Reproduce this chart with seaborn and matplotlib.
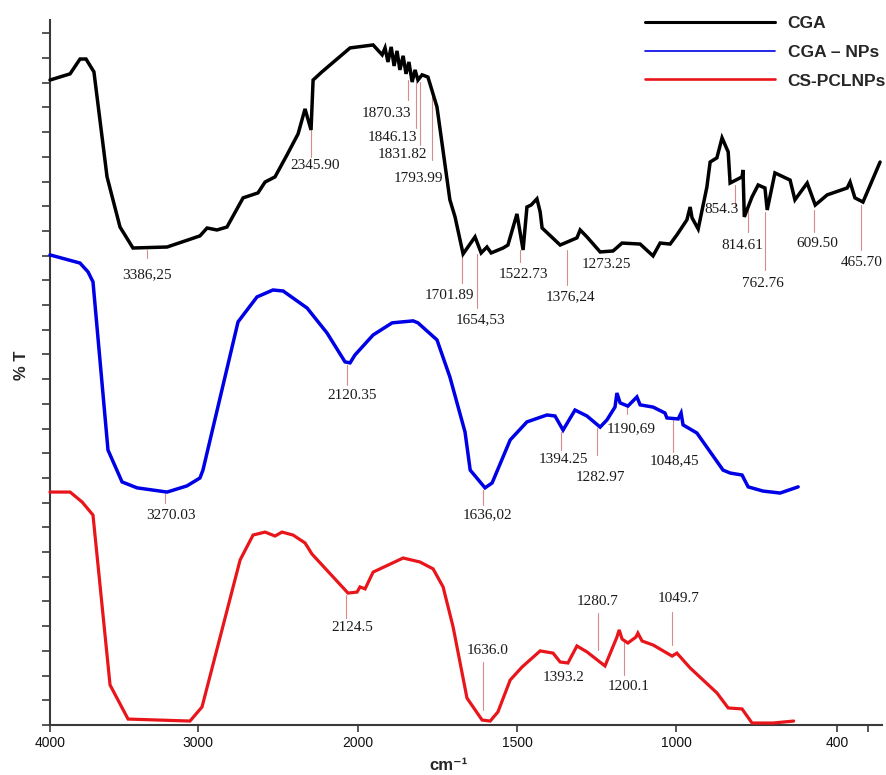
import numpy as np
import pandas as pd
import matplotlib
matplotlib.use("Agg")
import matplotlib.pyplot as plt
from matplotlib.lines import Line2D
import seaborn as sns

# ---------------------------------------------------------------------------
# FTIR spectra: wavenumber (cm-1) and stacked transmittance (offset units)
# ---------------------------------------------------------------------------
cga_wn = [4000, 3873, 3810, 3772, 3722, 3639, 3557, 3475, 3259, 3051,
          3006, 2943, 2880, 2778, 2684, 2639, 2576, 2500, 2430, 2386,
          2348, 2335, 2279, 2101, 1978, 1950, 1941, 1932, 1922, 1913,
          1904, 1895, 1885, 1876, 1867, 1857, 1848, 1839, 1826, 1808,
          1780, 1740, 1724, 1699, 1662, 1643, 1625, 1612, 1575, 1560,
          1532, 1513, 1501, 1488, 1470, 1460, 1454, 1398, 1346, 1336,
          1315, 1274, 1234, 1206, 1150, 1110, 1088, 1057, 1036, 1005,
          995, 989, 970, 943, 933, 912, 896, 877, 871, 834,
          831, 827, 803, 784, 763, 756, 732, 685, 670, 632,
          607, 570, 508, 499, 484, 459, 406]
cga_t = [26.11, 26.36, 26.96, 26.96, 26.44, 22.19, 20.16, 19.31, 19.35, 19.80,
         20.12, 20.04, 20.16, 21.34, 21.54, 21.98, 22.19, 23.08, 23.93, 24.94,
         24.09, 26.11, 26.44, 27.41, 27.53, 27.13, 27.41, 26.84, 27.45, 26.68,
         27.29, 26.52, 27.09, 26.36, 26.84, 26.03, 26.52, 26.11, 26.32, 26.23,
         25.02, 21.26, 20.57, 19.07, 19.76, 19.11, 19.35, 19.11, 19.31, 19.43,
         20.69, 19.23, 20.97, 21.05, 21.30, 20.77, 20.12, 19.43, 19.72, 20.04,
         19.76, 19.15, 19.19, 19.51, 19.47, 18.99, 19.51, 19.47, 19.84, 20.45,
         20.97, 20.53, 20.08, 21.78, 22.79, 22.96, 23.77, 23.20, 21.94, 22.19,
         22.47, 20.57, 21.38, 21.86, 21.74, 20.85, 22.35, 22.06, 21.26, 21.94,
         21.05, 21.46, 21.74, 21.98, 21.34, 21.17, 22.79]

np_wn = [4000, 3810, 3759, 3728, 3633, 3544, 3449, 3259, 3133, 3051,
         3032, 2810, 2690, 2589, 2525, 2373, 2247, 2133, 2101, 2070,
         1978, 1919, 1854, 1839, 1780, 1740, 1693, 1677, 1631, 1609,
         1553, 1501, 1439, 1414, 1389, 1352, 1315, 1274, 1253, 1228,
         1222, 1212, 1188, 1160, 1150, 1110, 1073, 1067, 1032, 1023,
         1017, 974, 893, 871, 834, 815, 769, 716, 660]
np_t = [19.03, 18.70, 18.34, 17.94, 11.13, 9.84, 9.60, 9.43, 9.68, 10.00,
        10.32, 16.32, 17.33, 17.61, 17.57, 16.88, 15.87, 14.70, 14.66, 14.98,
        15.79, 16.28, 16.36, 16.28, 15.59, 14.09, 11.86, 10.32, 9.60, 9.80,
        11.54, 12.27, 12.55, 12.51, 11.94, 12.75, 12.51, 12.06, 12.35, 12.87,
        13.44, 13.04, 12.91, 13.28, 12.96, 12.87, 12.63, 12.43, 12.39, 12.63,
        12.15, 11.82, 10.32, 10.20, 10.12, 9.64, 9.47, 9.39, 9.64]

pcl_wn = [4000, 3873, 3797, 3728, 3620, 3506, 3114, 3038, 2797, 2715,
          2639, 2576, 2532, 2462, 2386, 2342, 2114, 2057, 2038, 2006,
          1978, 1885, 1833, 1792, 1761, 1730, 1687, 1640, 1615, 1591,
          1553, 1516, 1460, 1420, 1398, 1374, 1346, 1315, 1259, 1222,
          1215, 1206, 1188, 1163, 1157, 1144, 1110, 1051, 1036, 995,
          912, 877, 834, 803, 738, 674]
pcl_t = [9.43, 9.43, 9.03, 8.50, 1.62, 0.24, 0.16, 0.73, 6.68, 7.69,
         7.81, 7.65, 7.81, 7.69, 7.37, 6.92, 5.34, 5.38, 5.59, 5.51,
         6.19, 6.76, 6.60, 6.32, 5.59, 3.97, 1.09, 0.20, 0.16, 0.53,
         1.82, 2.35, 3.00, 2.91, 2.55, 2.51, 3.20, 2.96, 2.39, 3.56,
         3.85, 3.48, 3.32, 3.56, 3.72, 3.40, 3.24, 2.79, 2.91, 2.31,
         1.30, 0.69, 0.65, 0.08, 0.08, 0.16]

series_names = ["CGA", "CGA \u2013 NPs", "CS-PCLNPs"]

# Peak labels (decimal separators as printed)
cga_peaks = ["3386,25", "2345.90", "1870.33", "1846.13", "1831.82", "1793.99",
             "1701.89", "1654,53", "1522.73", "1376,24", "1273.25", "854.3",
             "814.61", "762.76", "609.50", "465.70"]
np_peaks = ["3270.03", "2120.35", "1636,02", "1394.25", "1282.97", "1190,69",
            "1048,45"]
pcl_peaks = ["2124.5", "1636.0", "1393.2", "1280.7", "1200.1", "1049.7"]

# Printed axis labels
tick_labels = ["4000", "3000", "2000", "1500", "1000", "400"]

# ---------------------------------------------------------------------------
# Layout of the peak markers: (marker top, marker bottom, text y, text dx px)
# ---------------------------------------------------------------------------
cga_peak_pos = [(19.23, 18.91, 18.22, 0), (24.82, 23.00, 22.63, 4),
                (26.11, 25.30, 24.74, -21), (26.03, 24.17, 23.77, -23),
                (26.03, 23.48, 23.08, -18), (25.51, 22.87, 22.11, -14),
                (18.99, 17.89, 17.37, -13), (19.07, 16.88, 16.40, 3),
                (19.23, 18.74, 18.22, 3), (19.23, 17.81, 17.33, 3),
                (None, None, 18.66, 6), (21.86, 20.97, 20.85, -14),
                (20.93, 19.96, 19.43, -6), (20.77, 18.42, 17.89, -2),
                (20.85, 19.96, 19.51, 3), (21.05, 19.23, 18.74, 1)]
np_peak_pos = [(9.39, 8.99, 8.50, 6), (14.57, 13.77, 13.32, 5),
               (9.51, 8.91, 8.50, 4), (11.86, 11.13, 10.73, 2),
               (12.02, 10.93, 10.00, 3), (12.96, 12.59, 11.98, 4),
               (12.35, 11.05, 10.69, 2)]
pcl_peak_pos = [(5.26, 4.33, 3.93, 6), (2.55, 0.61, 3.00, 4),
                (None, None, 1.94, 2), (4.53, 3.04, 4.98, 0),
                (3.36, 2.02, 1.54, 5), (4.57, 3.24, 5.14, 6)]

colors = ["#000000", "#0000e6", "#e8151b"]
line_widths = [2.5, 2.5, 2.3]

sns.set_style("ticks")
plt.rcParams["font.family"] = ["Liberation Sans", "DejaVu Sans"]

# Spectral axis: region above 2000 cm-1 compressed (standard FTIR layout)
SPLIT, SQUEEZE = 2000.0, 0.49


def ftir_fwd(x):
    x = np.asarray(x, dtype=float)
    return np.where(x <= SPLIT, x, SPLIT + (x - SPLIT) * SQUEEZE)


def ftir_inv(u):
    u = np.asarray(u, dtype=float)
    return np.where(u <= SPLIT, u, SPLIT + (u - SPLIT) / SQUEEZE)


# Printed scale of the wavenumber labels (piecewise, in pixel positions)
LAB_W = [200, 400, 1000, 1500, 2000, 3000, 4000]
LAB_P = [890, 837, 676, 517, 358, 198, 50]


def lab_fwd(w):
    return -np.interp(np.asarray(w, dtype=float), LAB_W, LAB_P)


def lab_inv(u):
    return np.interp(-np.asarray(u, dtype=float), LAB_P[::-1], LAB_W[::-1])


W, H = 887, 775
fig = plt.figure(figsize=(W / 100, H / 100), dpi=100)
ax = fig.add_axes([50 / W, 50 / H, 832 / W, 705 / H])
ax.set_xscale("function", functions=(ftir_fwd, ftir_inv))

frames = []
for name, wn, t in zip(series_names, [cga_wn, np_wn, pcl_wn],
                       [cga_t, np_t, pcl_t]):
    frames.append(pd.DataFrame({"wavenumber": wn, "T": t, "sample": name}))
spectra = pd.concat(frames, ignore_index=True)

for name, c, lw in zip(series_names, colors, line_widths):
    sub = spectra[spectra["sample"] == name]
    sns.lineplot(data=sub, x="wavenumber", y="T", ax=ax, sort=False,
                 estimator=None, color=c, lw=lw, legend=False,
                 solid_joinstyle="miter", clip_on=False, zorder=3)

ax.set_xlim(4000, 400)
ax.set_ylim(0, 28.54)


def mark_peaks(labels, layout):
    for text, (y0, y1, yt, dx) in zip(labels, layout):
        wn = float(text.replace(",", "."))
        if y0 is not None:
            ax.plot([wn, wn], [y0, y1], color="#d98a8a", lw=0.8, zorder=2)
        ax.annotate(text, xy=(wn, yt), xytext=(dx, 0),
                    textcoords="offset pixels", ha="center", va="center",
                    fontfamily="Liberation Serif", fontsize=11,
                    color="#1a1a1a", zorder=4)


mark_peaks(cga_peaks, cga_peak_pos)
mark_peaks(np_peaks, np_peak_pos)
mark_peaks(pcl_peaks, pcl_peak_pos)

# Axis styling
for side in ["top", "right"]:
    ax.spines[side].set_visible(False)
for side in ["left", "bottom"]:
    ax.spines[side].set_color("#3a3a3a")
    ax.spines[side].set_linewidth(1.5)
ax.set_yticks(np.arange(0, 29))
ax.set_yticklabels([])
ax.tick_params(axis="y", direction="out", length=6, width=1.2,
               color="#3a3a3a")
ax.set_xlabel("")
ax.set_ylabel("")

# Wavenumber labels on their own printed scale
ax2 = ax.twiny()
ax2.set_xscale("function", functions=(lab_fwd, lab_inv))
ax2.set_xlim(4000, 230)
ax2.xaxis.set_ticks_position("bottom")
ax2.xaxis.set_label_position("bottom")
for s in ax2.spines.values():
    s.set_visible(False)
ax2.set_xticks([float(v) for v in tick_labels])
ax2.set_xticklabels(tick_labels)
ax2.set_xticks([281], minor=True)
ax2.tick_params(axis="x", which="both", direction="out", length=5, width=1.2,
                color="#3a3a3a", labelsize=10, pad=3, labelcolor="#111111")
ax.tick_params(axis="x", which="both", bottom=False, top=False,
               labelbottom=False, labeltop=False)

fig.text(449 / W, 1 - 766 / H, "cm\u207b\u00b9", ha="center", va="center",
         fontsize=12, fontweight="bold")
fig.text(22 / W, 1 - 365 / H, "% T", rotation=90, ha="center", va="center",
         fontsize=12, fontweight="bold")

handles = [Line2D([], [], color=colors[0], lw=2.2),
           Line2D([], [], color=colors[1], lw=1.2),
           Line2D([], [], color=colors[2], lw=1.9)]
leg = ax.legend(handles, series_names, loc="upper right",
                bbox_to_anchor=(886 / W, 1 - 16 / H),
                bbox_transform=fig.transFigure, frameon=False,
                borderpad=0, borderaxespad=0,
                handlelength=7.5, handletextpad=0.7, labelspacing=0.78,
                prop={"weight": "bold", "size": 12.5})

fig.savefig("out.png", dpi=100)
